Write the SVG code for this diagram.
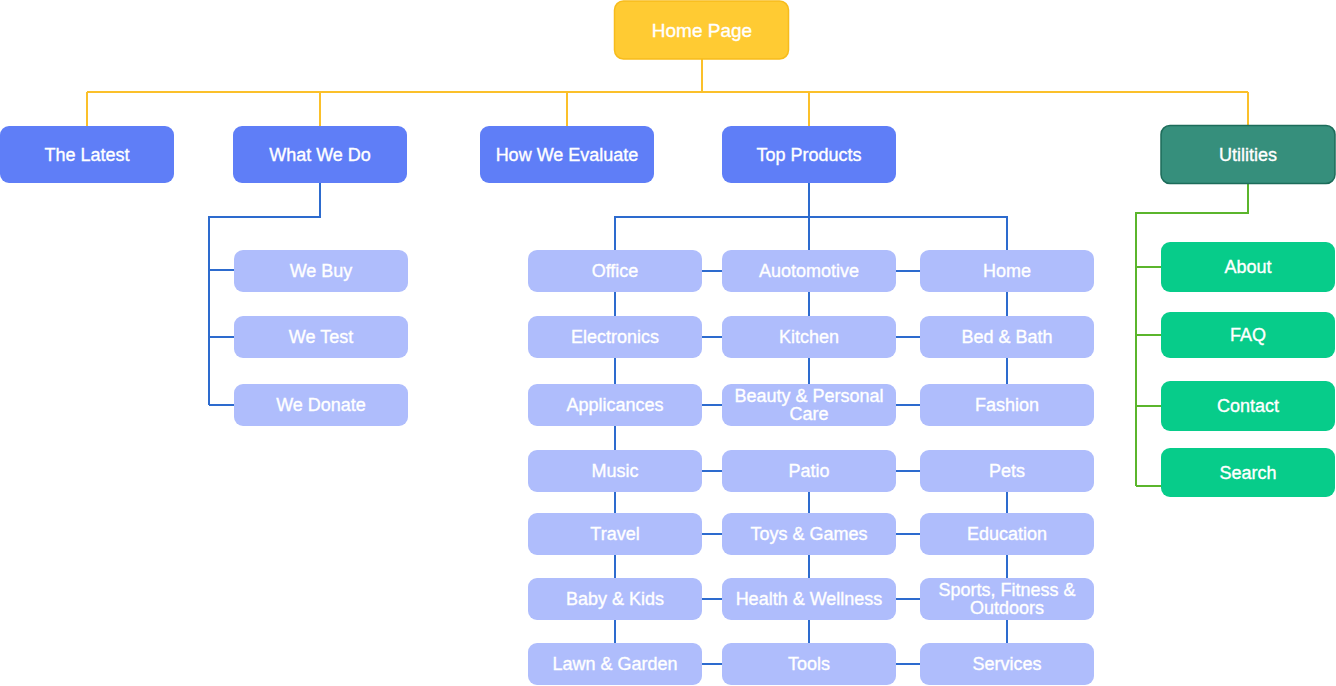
<svg xmlns="http://www.w3.org/2000/svg" width="1336" height="686" viewBox="0 0 1336 686">
<style>
text{font-family:"Liberation Sans",Arial,sans-serif;font-size:18px;fill:#fff;stroke:#fff;stroke-width:0.35;text-anchor:middle;dominant-baseline:central}
.big{font-size:19px}
.home{fill:#FFCB33;stroke:#F7BC1C;stroke-width:1.5}
.l1{fill:#5F7EF7}
.sub{fill:#AFBDFC}
.util{fill:#368F7C;stroke:#1C6C5A;stroke-width:1.5}
.ug{fill:#07CC8A}
.y{stroke:#FBC02A;stroke-width:2;fill:none}
.b{stroke:#2D6BCE;stroke-width:2;fill:none}
.g{stroke:#5BB52C;stroke-width:2;fill:none}
</style>
<g id="connectors">
<path class="y" d="M702 59V92M87 92H1248M87 92V126M320 92V126M567 92V126M809 92V126M1248 92V126"/>
<path class="b" d="M320 183V217H209V405M209 270H234M209 337H234M209 405H234"/>
<path class="b" d="M809 183V250M615 250V217H1007V250"/>
<path class="b" d="M615 291V643M809 291V384M1007 291V384M809 491V643M1007 491V643"/>
<path class="b" d="M701 271H722M895 271H920M701 337H722M895 337H920M701 405H722M895 405H920M701 471H722M895 471H920M701 534H722M895 534H920M701 599H722M895 599H920M701 664H722M895 664H920"/>
<path class="g" d="M1248 184V213H1136V486M1136 267H1161M1136 335H1161M1136 406H1161M1136 486H1161"/>
</g>
<g id="home"><rect class="home" x="614.5" y="1" width="174" height="58" rx="9"/><text class="big" x="702" y="30">Home Page</text></g>
<g id="the-latest"><rect class="l1" x="0" y="126" width="174" height="57" rx="9"/><text x="87" y="155">The Latest</text></g>
<g id="what-we-do"><rect class="l1" x="233" y="126" width="174" height="57" rx="9"/><text x="320" y="155">What We Do</text></g>
<g id="how-we-evaluate"><rect class="l1" x="480" y="126" width="174" height="57" rx="9"/><text x="567" y="155">How We Evaluate</text></g>
<g id="top-products"><rect class="l1" x="722" y="126" width="174" height="57" rx="9"/><text x="809" y="155">Top Products</text></g>
<g id="utilities"><rect class="util" x="1161" y="125.5" width="174" height="58" rx="9"/><text x="1248" y="155">Utilities</text></g>
<g id="we-buy"><rect class="sub" x="234" y="250" width="174" height="42" rx="9"/><text x="321" y="271">We Buy</text></g>
<g id="we-test"><rect class="sub" x="234" y="316" width="174" height="42" rx="9"/><text x="321" y="337">We Test</text></g>
<g id="we-donate"><rect class="sub" x="234" y="384" width="174" height="42" rx="9"/><text x="321" y="405">We Donate</text></g>
<g id="office"><rect class="sub" x="528" y="250" width="174" height="42" rx="9"/><text x="615" y="271">Office</text></g>
<g id="auotomotive"><rect class="sub" x="722" y="250" width="174" height="42" rx="9"/><text x="809" y="271">Auotomotive</text></g>
<g id="home-cat"><rect class="sub" x="920" y="250" width="174" height="42" rx="9"/><text x="1007" y="271">Home</text></g>
<g id="electronics"><rect class="sub" x="528" y="316" width="174" height="42" rx="9"/><text x="615" y="337">Electronics</text></g>
<g id="kitchen"><rect class="sub" x="722" y="316" width="174" height="42" rx="9"/><text x="809" y="337">Kitchen</text></g>
<g id="bed-bath"><rect class="sub" x="920" y="316" width="174" height="42" rx="9"/><text x="1007" y="337">Bed &amp; Bath</text></g>
<g id="applicances"><rect class="sub" x="528" y="384" width="174" height="42" rx="9"/><text x="615" y="405">Applicances</text></g>
<g id="beauty"><rect class="sub" x="722" y="384" width="174" height="42" rx="9"/><text x="809" y="396">Beauty &amp; Personal</text><text x="809" y="414">Care</text></g>
<g id="fashion"><rect class="sub" x="920" y="384" width="174" height="42" rx="9"/><text x="1007" y="405">Fashion</text></g>
<g id="music"><rect class="sub" x="528" y="450" width="174" height="42" rx="9"/><text x="615" y="471">Music</text></g>
<g id="patio"><rect class="sub" x="722" y="450" width="174" height="42" rx="9"/><text x="809" y="471">Patio</text></g>
<g id="pets"><rect class="sub" x="920" y="450" width="174" height="42" rx="9"/><text x="1007" y="471">Pets</text></g>
<g id="travel"><rect class="sub" x="528" y="513" width="174" height="42" rx="9"/><text x="615" y="534">Travel</text></g>
<g id="toys"><rect class="sub" x="722" y="513" width="174" height="42" rx="9"/><text x="809" y="534">Toys &amp; Games</text></g>
<g id="education"><rect class="sub" x="920" y="513" width="174" height="42" rx="9"/><text x="1007" y="534">Education</text></g>
<g id="baby"><rect class="sub" x="528" y="578" width="174" height="42" rx="9"/><text x="615" y="599">Baby &amp; Kids</text></g>
<g id="health"><rect class="sub" x="722" y="578" width="174" height="42" rx="9"/><text x="809" y="599">Health &amp; Wellness</text></g>
<g id="sports"><rect class="sub" x="920" y="578" width="174" height="42" rx="9"/><text x="1007" y="590">Sports, Fitness &amp;</text><text x="1007" y="608">Outdoors</text></g>
<g id="lawn"><rect class="sub" x="528" y="643" width="174" height="42" rx="9"/><text x="615" y="664">Lawn &amp; Garden</text></g>
<g id="tools"><rect class="sub" x="722" y="643" width="174" height="42" rx="9"/><text x="809" y="664">Tools</text></g>
<g id="services"><rect class="sub" x="920" y="643" width="174" height="42" rx="9"/><text x="1007" y="664">Services</text></g>
<g id="about"><rect class="ug" x="1161" y="242" width="174" height="50" rx="9"/><text x="1248" y="267">About</text></g>
<g id="faq"><rect class="ug" x="1161" y="312" width="174" height="46" rx="9"/><text x="1248" y="335">FAQ</text></g>
<g id="contact"><rect class="ug" x="1161" y="381" width="174" height="50" rx="9"/><text x="1248" y="406">Contact</text></g>
<g id="search"><rect class="ug" x="1161" y="448" width="174" height="49" rx="9"/><text x="1248" y="473">Search</text></g>
</svg>
